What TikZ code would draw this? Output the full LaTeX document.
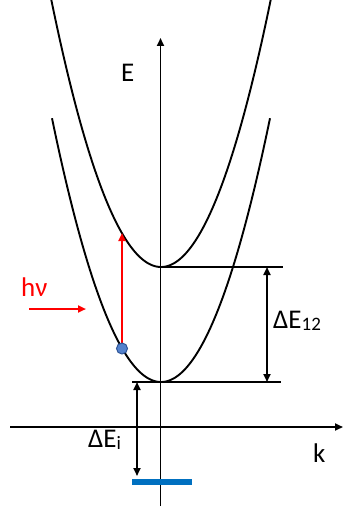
\documentclass[tikz,border=0pt]{standalone}
\usepackage{fontspec}
\setmainfont{Carlito}
\usetikzlibrary{arrows.meta}
\definecolor{pptred}{RGB}{255,0,0}
\definecolor{dotfill}{RGB}{84,130,205}
\definecolor{dotedge}{RGB}{47,85,151}
\definecolor{barblue}{RGB}{0,112,192}
\tikzset{
  line/.style={line width=1.9pt, black},
  tip/.style={-{Triangle[length=8pt,width=7pt]}},
  dtip/.style={{Triangle[length=8pt,width=7pt]}-{Triangle[length=8pt,width=7pt]}},
  lbl/.style={anchor=base west, inner sep=0pt, font=\fontsize{27}{30}\selectfont},
}
\begin{document}
\begin{tikzpicture}[x=1pt,y=-1pt]
\useasboundingbox (0,0) rectangle (343,508);
% coordinates
\coordinate (Etop) at (160.5,38);
\coordinate (Ebot) at (160.5,506);
\coordinate (kleft) at (10,427);
\coordinate (kright) at (343,427);
\coordinate (v2) at (161,267);
\coordinate (v1) at (161,382);
\coordinate (h2end) at (283,267);
\coordinate (h1start) at (132,382);
\coordinate (h1end) at (281,382);
\coordinate (a12top) at (267,267);
\coordinate (a12bot) at (267,382);
\coordinate (aitop) at (137,382);
\coordinate (aibot) at (137,476);
\coordinate (barL) at (132,482);
\coordinate (barR) at (192,482);
\coordinate (dot) at (122,348.5);
\coordinate (redtop) at (122,233);
\coordinate (hvL) at (29,309);
\coordinate (hvR) at (86,309);
% axes
\draw[line,tip] (Ebot) -- (Etop);
\draw[line,tip] (kleft) -- (kright);
% parabolas
\draw[line] plot[domain=51.3:270.7,samples=120,smooth] (\x,{267-0.0222*(\x-161)*(\x-161)});
\draw[line] plot[domain=52:270,samples=120,smooth] (\x,{382-0.0222*(\x-161)*(\x-161)});
% level lines
\draw[line] (v2) -- (h2end);
\draw[line] (h1start) -- (h1end);
\draw[line,dtip] (a12top) -- (a12bot);
\draw[line,dtip] (aitop) -- (aibot);
% blue bar
\draw[barblue,line width=6pt] (barL) -- (barR);
% red arrows
\draw[pptred,line width=2pt,tip] (dot) -- (redtop);
\draw[pptred,line width=2pt,tip] (hvL) -- (hvR);
\node[circle,fill=dotfill,draw=dotedge,line width=1pt,minimum size=11pt,inner sep=0pt] (blob) at (dot) {};
% labels
\node[lbl] (E) at (121,82) {E};
\node[lbl] (k) at (313,462) {k};
\node[lbl] (d12) at (273,328) {ΔE\raisebox{-2pt}{\fontsize{19}{20}\selectfont 12}};
\node[lbl] (di) at (88,447) {ΔE\raisebox{-2pt}{\fontsize{19}{20}\selectfont i}};
\node[lbl,text=pptred] (hv) at (21,296) {hν};
\end{tikzpicture}
\end{document}
